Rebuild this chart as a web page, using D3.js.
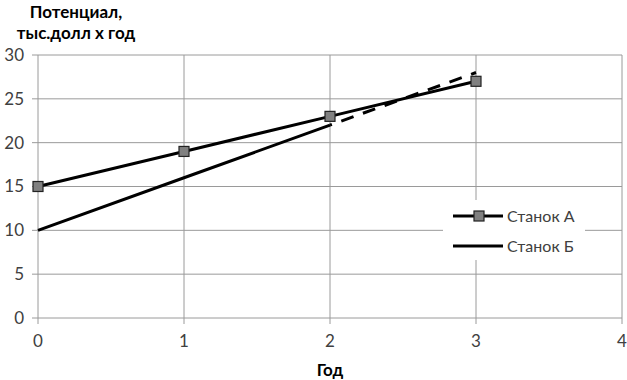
<!DOCTYPE html>
<html>
<head>
<meta charset="utf-8">
<script src="https://cdn.jsdelivr.net/npm/d3@7"></script>
<style>
  body { margin: 0; background: #fff; }
  svg text { font-family: Lato, "Open Sans", sans-serif; }
</style>
</head>
<body>
<svg id="chart" width="627" height="380"></svg>
<script>
let years = [0, 1, 2, 3];
let stanokA = [15, 19, 23, 27];
let stanokB = [10, 16, 22, 28];
let xTicks = [0, 1, 2, 3, 4];
let yTicks = [0, 5, 10, 15, 20, 25, 30];
let seriesNames = ["Станок А", "Станок Б"];

let svg = d3.select("#chart");
let margin = {top: 55, right: 5, bottom: 62, left: 38};
let width = 627 - margin.left - margin.right;
let height = 380 - margin.top - margin.bottom;

let x = d3.scaleLinear().domain([0, 4]).range([0, width]);
let y = d3.scaleLinear().domain([0, 30]).range([height, 0]);

let g = svg.append("g").attr("transform", "translate(" + margin.left + "," + margin.top + ")");

// grid
g.selectAll(".hgrid").data(yTicks).enter().append("line")
    .attr("x1", -6).attr("x2", width)
    .attr("y1", d => y(d)).attr("y2", d => y(d))
    .attr("stroke", "#9a9a9a").attr("stroke-width", 1);
g.selectAll(".vgrid").data(xTicks).enter().append("line")
    .attr("x1", d => x(d)).attr("x2", d => x(d))
    .attr("y1", 0).attr("y2", height + 6)
    .attr("stroke", "#9a9a9a").attr("stroke-width", 1);

// tick labels
g.selectAll(".ylab").data(yTicks).enter().append("text")
    .attr("x", -14).attr("y", d => y(d)).attr("dy", "0.35em")
    .attr("text-anchor", "end").attr("font-size", 17).attr("fill", "#404040")
    .text(d => d);
g.selectAll(".xlab").data(xTicks).enter().append("text")
    .attr("x", d => x(d)).attr("y", height + 29)
    .attr("text-anchor", "middle").attr("font-size", 17).attr("fill", "#404040")
    .text(d => d);

// lines
let line = d3.line().x(d => x(d[0])).y(d => y(d[1]));
let ptsA = years.map((d, i) => [d, stanokA[i]]);
let ptsB = years.map((d, i) => [d, stanokB[i]]);

g.append("path").attr("d", line(ptsB.slice(0, 3)))
    .attr("fill", "none").attr("stroke", "#000").attr("stroke-width", 3);
g.append("path").attr("d", line(ptsB.slice(2)))
    .attr("fill", "none").attr("stroke", "#000").attr("stroke-width", 3)
    .attr("stroke-dasharray", "13,10").attr("stroke-dashoffset", -12);

g.append("path").attr("d", line(ptsA))
    .attr("fill", "none").attr("stroke", "#000").attr("stroke-width", 3);
g.selectAll(".mk").data(ptsA).enter().append("rect")
    .attr("x", d => x(d[0]) - 5).attr("y", d => y(d[1]) - 5)
    .attr("width", 10).attr("height", 10)
    .attr("fill", "#808080").attr("stroke", "#222").attr("stroke-width", 1.2);

// legend
let leg = g.append("g").attr("transform", "translate(405,145)");
leg.append("rect").attr("x", 0).attr("y", 0).attr("width", 142).attr("height", 60).attr("fill", "#fff");
leg.append("line").attr("x1", 10).attr("x2", 60).attr("y1", 16).attr("y2", 16)
    .attr("stroke", "#000").attr("stroke-width", 3);
leg.append("rect").attr("x", 31).attr("y", 11).attr("width", 10).attr("height", 10)
    .attr("fill", "#808080").attr("stroke", "#222").attr("stroke-width", 1.2);
leg.append("line").attr("x1", 10).attr("x2", 60).attr("y1", 46).attr("y2", 46)
    .attr("stroke", "#000").attr("stroke-width", 3);
leg.selectAll(".lt").data(seriesNames).enter().append("text")
    .attr("x", 64).attr("y", (d, i) => 16 + i * 30).attr("dy", "0.35em")
    .attr("font-size", 16).attr("fill", "#404040")
    .text(d => d);

// titles
svg.append("text").attr("x", 76).attr("y", 18).attr("text-anchor", "middle")
    .attr("font-size", 17).attr("font-weight", "bold").attr("fill", "#000")
    .text("Потенциал,");
svg.append("text").attr("x", 76).attr("y", 39).attr("text-anchor", "middle")
    .attr("font-size", 17).attr("font-weight", "bold").attr("fill", "#000")
    .text("тыс.долл х год");
svg.append("text").attr("x", margin.left + x(2)).attr("y", 376).attr("text-anchor", "middle")
    .attr("font-size", 17).attr("font-weight", "bold").attr("fill", "#000")
    .text("Год");
</script>
</body>
</html>
